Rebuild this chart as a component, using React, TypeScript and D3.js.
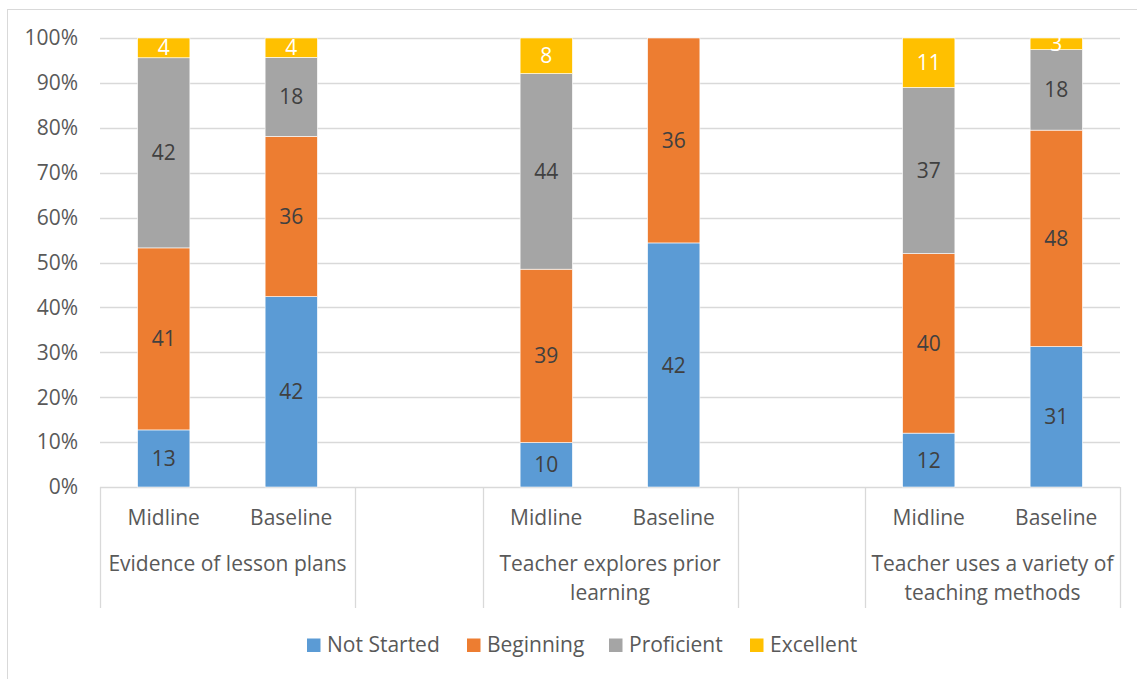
import React from "react";
import * as d3 from "d3";

const groups = ["Evidence of lesson plans", "", "Teacher explores prior learning", "", "Teacher uses a variety of teaching methods"];
const groupLines: string[][] = [["Evidence of lesson plans"], [], ["Teacher explores prior", "learning"], [], ["Teacher uses a variety of", "teaching methods"]];
const periods = ["Midline", "Baseline"];
const series = ["Not Started", "Beginning", "Proficient", "Excellent"];
const colors = ["#5B9BD5", "#ED7D31", "#A5A5A5", "#FFC000"];
const labelColors = ["#404040", "#404040", "#404040", "#FFFFFF"];
// values per bar (Midline, Baseline for each item)
const notStarted = [12.7, 42.4, 10, 42.4, 12, 31.4];
const beginning = [40.5, 35.7, 39, 35.6, 40, 48.4];
const proficient = [42.3, 17.6, 44, 0, 37, 18];
const excellent = [4.4, 4.3, 8, 0, 11, 2.6];
const yTicks = [0, 0.1, 0.2, 0.3, 0.4, 0.5, 0.6, 0.7, 0.8, 0.9, 1];

const W = 1137, H = 679;
const FONT = "'Open Sans', sans-serif";
const TXT = "#595959";
const FS = 21;

export default function App() {
  const slots: { key: string; bar: number | null; group: number }[] = [];
  let bi = 0;
  groups.forEach((g, gi) => {
    if (g === "") slots.push({ key: "gap" + gi, bar: null, group: gi });
    else periods.forEach((p) => { slots.push({ key: gi + "-" + p, bar: bi++, group: gi }); });
  });
  const x = d3.scaleBand<string>().domain(slots.map((s) => s.key)).range([100, 1120]).padding(0);
  const y = d3.scaleLinear().domain([0, 1]).range([487, 38]);
  const barW = x.bandwidth() * 0.41;
  const arrays = [notStarted, beginning, proficient, excellent];

  const bars = slots.filter((s) => s.bar !== null).map((s) => {
    const i = s.bar as number;
    const vals = arrays.map((a) => a[i]);
    const total = d3.sum(vals);
    let cum = 0;
    const segs = vals.map((v, k) => {
      const y0 = cum / total; cum += v; const y1 = cum / total;
      return { k, v, y0, y1 };
    });
    return { s, segs };
  });

  const groupBounds = groups.map((_, gi) => {
    const ss = slots.filter((s) => s.group === gi);
    return [x(ss[0].key)!, x(ss[ss.length - 1].key)! + x.bandwidth()];
  });
  const sepXs = Array.from(new Set(groupBounds.flat().map((v) => Math.round(v) + 0.5)));

  const legendX = [307, 467, 609, 750];

  return (
    <svg width={W} height={H} style={{ display: "block", position: "absolute", left: 0, top: 0 }} fontFamily={FONT}>
      <rect x={0} y={0} width={W} height={H} fill="#fff" />
      <rect x={7.5} y={9.5} width={W + 10} height={H + 10} fill="none" stroke="#d9d9d9" />
      {yTicks.map((t) => (
        <g key={t}>
          <line x1={100} x2={1120} y1={Math.round(y(t)) + 0.5} y2={Math.round(y(t)) + 0.5} stroke="#d9d9d9" strokeWidth={1.3} />
          <text x={78} y={y(t)} dy="0.35em" textAnchor="end" fontSize={FS} fill={TXT}>{d3.format(".0%")(t)}</text>
        </g>
      ))}
      {bars.map(({ s, segs }) => {
        const cx = x(s.key)! + x.bandwidth() / 2;
        return (
          <g key={s.key}>
            {segs.map((sg) => sg.v > 0 && (
              <rect key={sg.k} x={cx - barW / 2} width={barW} y={y(sg.y1)} height={y(sg.y0) - y(sg.y1)} fill={colors[sg.k]} stroke="#fff" strokeWidth={0.6} />
            ))}
            {segs.map((sg) => sg.v > 0 && (
              <text key={"t" + sg.k} x={cx} y={(y(sg.y0) + y(sg.y1)) / 2} dy="0.36em" textAnchor="middle" fontSize={FS} fill={labelColors[sg.k]}>{Math.round(sg.v)}</text>
            ))}
          </g>
        );
      })}
      {sepXs.map((sx) => (
        <line key={sx} x1={sx} x2={sx} y1={487} y2={608} stroke="#d9d9d9" strokeWidth={1.3} />
      ))}
      {slots.filter((s) => s.bar !== null).map((s) => (
        <text key={"p" + s.key} x={x(s.key)! + x.bandwidth() / 2} y={518} dy="0.35em" textAnchor="middle" fontSize={FS} fill={TXT}>{s.key.split("-")[1]}</text>
      ))}
      {groupLines.map((lines, gi) => {
        const [a, b] = groupBounds[gi];
        return lines.map((ln, li) => (
          <text key={gi + "-" + li} x={(a + b) / 2} y={564 + li * 29} dy="0.35em" textAnchor="middle" fontSize={FS} fill={TXT}>{ln}</text>
        ));
      })}
      {series.map((sname, k) => (
        <g key={sname}>
          <rect x={legendX[k]} y={638.5} width={13.5} height={13.5} fill={colors[k]} />
          <text x={legendX[k] + 20} y={645} dy="0.35em" fontSize={FS} fill={TXT}>{sname}</text>
        </g>
      ))}
    </svg>
  );
}
